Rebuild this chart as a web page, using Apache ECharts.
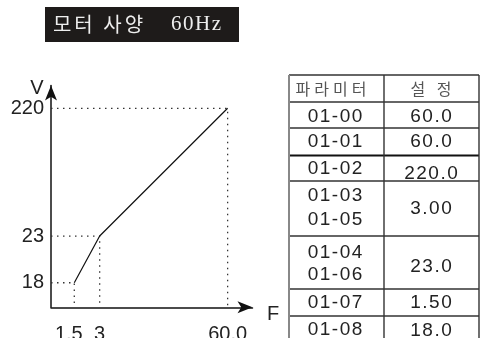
<!DOCTYPE html>
<html><head><meta charset="utf-8">
<script src="https://cdn.jsdelivr.net/npm/echarts@6/dist/echarts.min.js"></script>
<style>html,body{margin:0;padding:0;background:#fff}#c{width:481px;height:338px}</style>
</head><body><div id="c"></div>
<script>
// ---- data ----
const freq = [1.5, 3, 60];
const volt = [18, 23, 220];
const xTickLabels = ['1.5', '3', '60.0'];
const yTickLabels = ['18', '23', '220'];
const titleKo = '모터 사양';
const titleHz = '60Hz';
const tableHeader = ['파라미터', '설 정'];
const tableParams = [['01-00'], ['01-01'], ['01-02'], ['01-03', '01-05'], ['01-04', '01-06'], ['01-07'], ['01-08']];
const tableValues = ['60.0', '60.0', '220.0', '3.00', '23.0', '1.50', '18.0'];

// axis extents (schematic, broken axes)
const xMin = 0.124, xMax = 61.47;
const yMin = 15.37, yMax = 222.44;

const SANS = '"Liberation Sans", Arial, sans-serif';
const KO = '"Noto Sans CJK KR", sans-serif';
const SERIF = '"Liberation Serif", "DejaVu Serif", serif';

const cv = document.createElement('canvas').getContext('2d');
function spaced(str, cx, cy, family, size, spacing, color) {
  const font = size + 'px ' + family;
  cv.font = font;
  const ws = [...str].map(ch => cv.measureText(ch).width);
  const total = ws.reduce((a, b) => a + b, 0) + spacing * (ws.length - 1);
  let x = cx - total / 2;
  const out = [];
  [...str].forEach((ch, i) => {
    out.push({
      type: 'text', x: x, y: cy, z: 10,
      style: { text: ch, font: font, fill: color, textAlign: 'left', textVerticalAlign: 'middle' }
    });
    x += ws[i] + spacing;
  });
  return out;
}

const graphics = [];
// title box
graphics.push({ type: 'rect', shape: { x: 45, y: 7, width: 194, height: 35 }, style: { fill: '#1e1b1a' } });
graphics.push(...spaced(titleKo, 98, 24, KO, 20, 3, '#eeeeee'));
graphics.push(...spaced(titleHz, 196, 24, SERIF, 21, 1.5, '#eeeeee'));
// axis names
graphics.push({ type: 'text', x: 37, y: 88, style: { text: 'V', font: '20px ' + SANS, fill: '#222', textAlign: 'center', textVerticalAlign: 'middle' } });
graphics.push({ type: 'text', x: 273, y: 314, style: { text: 'F', font: '20px ' + SANS, fill: '#222', textAlign: 'center', textVerticalAlign: 'middle' } });

// parameter table
const tL = 289, tM = 384, tR = 479;
const rowLines = [75, 102, 128, 155.5, 181, 236, 289, 316, 343];
rowLines.forEach((y, i) => {
  graphics.push({ type: 'line', shape: { x1: tL, y1: y, x2: tR, y2: y }, style: { stroke: i === 3 ? '#111' : '#333', lineWidth: i === 3 ? 2 : 1.4 } });
});
graphics.push({ type: 'line', shape: { x1: tL, y1: 75, x2: tL, y2: 343 }, style: { stroke: '#888', lineWidth: 2 } });
graphics.push({ type: 'line', shape: { x1: tM, y1: 75, x2: tM, y2: 343 }, style: { stroke: '#333', lineWidth: 1.4 } });
graphics.push({ type: 'line', shape: { x1: tR, y1: 75, x2: tR, y2: 343 }, style: { stroke: '#333', lineWidth: 1.4 } });
const c1 = 335, c2 = 431;
graphics.push(...spaced(tableHeader[0], 331, 89, KO, 16, 4, '#555'));
graphics.push(...spaced(tableHeader[1], 431, 89, KO, 16, 4, '#555'));
const paramY = [[117], [142], [169], [195.5, 219.7], [252.5, 274.5], [302.5], [329.5]];
const valueY = [117, 142, 173.5, 209, 267, 303, 331];
tableParams.forEach((ps, i) => {
  ps.forEach((p, j) => graphics.push(...spaced(p, c1, paramY[i][j], SANS, 19, 1.5, '#222')));
  graphics.push(...spaced(tableValues[i], c2, valueY[i], SANS, 19, 1.5, '#222'));
});

// dotted guides
const guideSeries = freq.map((f, i) => ({
  type: 'line', silent: true, symbol: 'none', animation: false,
  data: [[xMin, volt[i]], [f, volt[i]], [f, yMin]],
  lineStyle: { color: '#333', width: 1.3, type: [1.5, 4.5] }
}));

const lineAxis = (min, max, pos, size) => ({
  type: 'value', min: min, max: max, position: pos, offset: 0,
  splitLine: { show: false }, axisTick: { show: false }, axisLabel: { show: false },
  axisLine: { show: true, onZero: false, symbol: ['none', 'arrow'], symbolSize: size, lineStyle: { color: '#111', width: 1.5 } }
});

const chart = echarts.init(document.getElementById('c'), null, { renderer: 'canvas' });
chart.setOption({
  animation: false,
  backgroundColor: '#fff',
  grid: { left: 51, top: 85.5, width: 201.5, height: 221.8, containLabel: false, outerBoundsMode: 'none' },
  xAxis: [{
    type: 'value', position: 'bottom', offset: 0,
    min: xMin, max: xMax,
    breaks: [{ start: 3.5, end: 59.5, gap: 6.56 }],
    breakArea: { show: false, itemStyle: { opacity: 0 } },
    splitLine: { show: false }, axisTick: { show: false },
    axisLine: { show: false, onZero: false },
    axisLabel: {
      customValues: freq, margin: 17, color: '#222', fontSize: 20, fontFamily: SANS,
      formatter: v => { const i = freq.indexOf(v); return i === 0 ? '{s|' + xTickLabels[i] + '}' : (xTickLabels[i] || ''); },
      rich: { s: { fontSize: 20, fontFamily: SANS, color: '#222', padding: [0, 11, 0, 0] } }
    }
  }, lineAxis(xMin, xMax, 'bottom', [9, 15])],
  yAxis: [{
    type: 'value', position: 'left', offset: 0,
    min: yMin, max: yMax,
    breaks: [{ start: 24, end: 219, gap: 11.68 }],
    breakArea: { show: false, itemStyle: { opacity: 0 } },
    splitLine: { show: false }, axisTick: { show: false },
    axisLine: { show: false, onZero: false },
    axisLabel: {
      customValues: volt, margin: 7, color: '#222', fontSize: 20, fontFamily: SANS,
      formatter: v => yTickLabels[volt.indexOf(v)] || ''
    }
  }, lineAxis(yMin, yMax, 'left', [9, 15])],
  series: guideSeries.concat([{
    type: 'line', symbol: 'none', animation: false,
    data: freq.map((f, i) => [f, volt[i]]),
    lineStyle: { color: '#111', width: 1.2 }
  }]),
  graphic: graphics
});
</script>
</body></html>
